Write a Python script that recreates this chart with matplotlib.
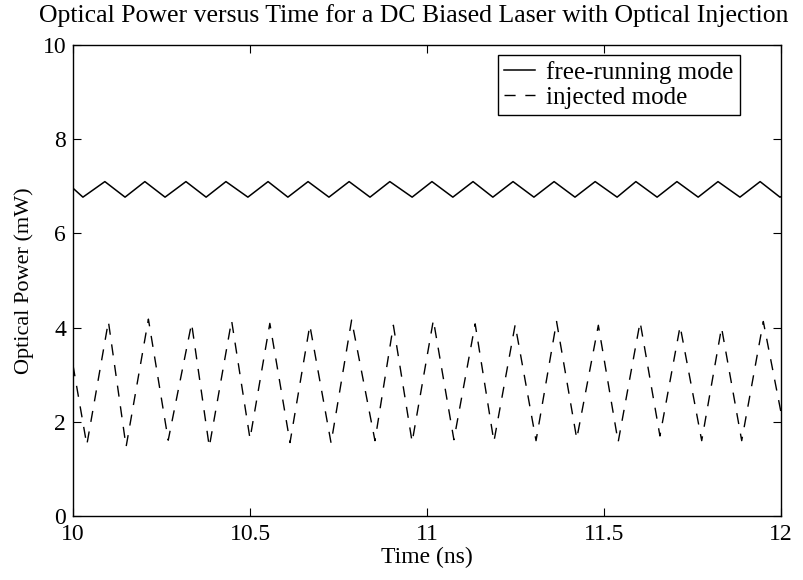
import numpy as np
import matplotlib.pyplot as plt

plt.rcParams['font.family'] = ['Liberation Serif', 'DejaVu Serif']

# free-running mode: turning points (ns, mW)
t_free = [10.0, 10.028, 10.090, 10.147, 10.203, 10.260, 10.319, 10.376, 10.432,
          10.494, 10.551, 10.607, 10.664, 10.723, 10.780, 10.839, 10.895,
          10.958, 11.014, 11.073, 11.130, 11.186, 11.243, 11.302, 11.359,
          11.418, 11.475, 11.537, 11.590, 11.650, 11.706, 11.766, 11.822,
          11.884, 11.941, 11.997, 12.0]
p_free = [6.96, 6.77, 7.10, 6.77, 7.10, 6.77, 7.10, 6.77, 7.10,
          6.77, 7.10, 6.77, 7.10, 6.77, 7.10, 6.77, 7.10,
          6.77, 7.10, 6.77, 7.10, 6.77, 7.10, 6.77, 7.10,
          6.77, 7.10, 6.77, 7.10, 6.77, 7.10, 6.77, 7.10,
          6.77, 7.10, 6.77, 6.78]

# injected mode: turning points (ns, mW)
t_inj = [10.0, 10.039, 10.100, 10.150, 10.213, 10.269, 10.335, 10.385, 10.448,
         10.500, 10.556, 10.613, 10.669, 10.729, 10.787, 10.853, 10.905,
         10.958, 11.018, 11.076, 11.136, 11.189, 11.249, 11.308, 11.366,
         11.423, 11.484, 11.540, 11.602, 11.658, 11.715, 11.776, 11.832,
         11.889, 11.950, 12.0]
p_inj = [3.20, 1.51, 4.13, 1.47, 4.18, 1.61, 4.09, 1.47, 4.15,
         1.64, 4.09, 1.56, 4.05, 1.55, 4.16, 1.60, 4.05,
         1.57, 4.16, 1.62, 4.08, 1.58, 4.06, 1.60, 4.13,
         1.64, 4.05, 1.57, 4.12, 1.70, 4.03, 1.60, 4.00,
         1.60, 4.13, 2.20]

x_ticks = [10, 10.5, 11, 11.5, 12]
x_labels = ['10', '10.5', '11', '11.5', '12']
y_ticks = [0, 2, 4, 6, 8, 10]

fig = plt.figure(figsize=(8.04, 5.80), dpi=100)
ax = fig.add_axes([0.0908, 0.1103, 0.8806, 0.8121])

ax.plot(t_free, p_free, color='black', lw=1.1, label='free-running mode')
ax.plot(t_inj, p_inj, color='black', lw=1.0, linestyle=(0, (8, 7)),
        label='injected mode')

ax.set_xlim(10, 12)
ax.set_ylim(0, 10)
ax.set_xticks(x_ticks)
ax.set_xticklabels(x_labels)
ax.set_yticks(y_ticks)
ax.tick_params(direction='in', length=6, width=0.8, top=True, right=True,
               labelsize=17)
ax.tick_params(axis='x', pad=6)
ax.tick_params(axis='y', pad=5)
for s in ax.spines.values():
    s.set_linewidth(1.0)

ax.set_xlabel('Time (ns)', fontsize=17, labelpad=1)
ax.set_ylabel('Optical Power (mW)', fontsize=16, labelpad=6)
fig.text(0.515, 0.962,
         'Optical Power versus Time for a DC Biased Laser with Optical Injection',
         fontsize=18.5, ha='center', va='baseline')

leg = ax.legend(loc='upper right', bbox_to_anchor=(0.942, 0.979),
                borderaxespad=0, fontsize=18, fancybox=False, framealpha=1,
                edgecolor='black', handlelength=1.25, handletextpad=0.45,
                labelspacing=0.1, borderpad=0.25)
leg.get_frame().set_linewidth(1.0)

fig.savefig('out.png', dpi=100)
